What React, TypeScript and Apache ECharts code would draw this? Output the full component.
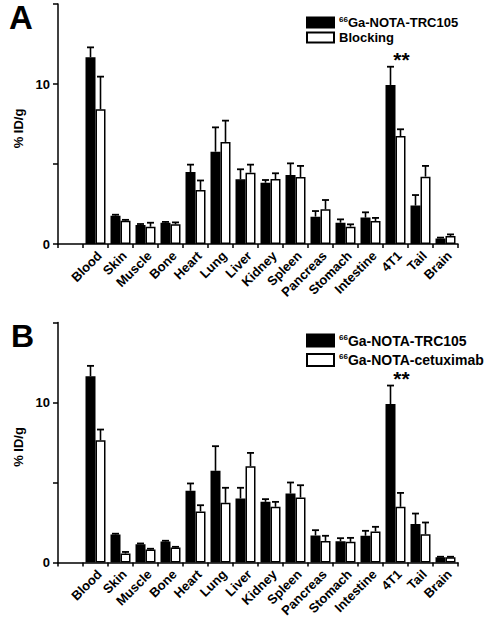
import React, { useEffect, useRef } from "react";
import * as echarts from "echarts";

const categories = ["Blood", "Skin", "Muscle", "Bone", "Heart", "Lung", "Liver", "Kidney", "Spleen", "Pancreas", "Stomach", "Intestine", "4T1", "Tail", "Brain"];

const namesA = ["66Ga-NOTA-TRC105", "Blocking"];
const namesB = ["66Ga-NOTA-TRC105", "66Ga-NOTA-cetuximab"];

const trcA = [11.67, 1.77, 1.19, 1.33, 4.5, 5.77, 4.04, 3.83, 4.31, 1.71, 1.33, 1.65, 9.94, 2.4, 0.35];
const trcAErr = [0.62, 0.06, 0.06, 0.05, 0.46, 1.52, 0.63, 0.17, 0.73, 0.35, 0.21, 0.33, 1.14, 0.66, 0.05];
const blockA = [8.42, 1.46, 1.08, 1.23, 3.38, 6.38, 4.46, 4.06, 4.19, 2.17, 1.08, 1.44, 6.75, 4.21, 0.5];
const blockAErr = [2.04, 0.05, 0.25, 0.12, 0.59, 1.33, 0.5, 0.36, 0.69, 0.58, 0.15, 0.19, 0.42, 0.67, 0.1];

const trcB = [11.64, 1.75, 1.14, 1.31, 4.48, 5.73, 4.0, 3.79, 4.31, 1.69, 1.33, 1.67, 9.9, 2.4, 0.33];
const trcBErr = [0.65, 0.05, 0.05, 0.05, 0.46, 1.54, 0.67, 0.17, 0.69, 0.33, 0.19, 0.31, 1.16, 0.66, 0.03];
const cetuxB = [7.64, 0.56, 0.81, 0.94, 3.19, 3.73, 6.02, 3.48, 4.06, 1.35, 1.29, 1.94, 3.48, 1.77, 0.33];
const cetuxBErr = [0.67, 0.1, 0.05, 0.04, 0.39, 0.94, 0.83, 0.31, 0.77, 0.32, 0.25, 0.29, 0.87, 0.73, 0.03];

const starCategories = ["4T1"];
const starText = "**";
const yTickLabels = [0, 10];
const yAxisName = "% ID/g";
const panelLabels = ["A", "B"];

const FONT = "'Liberation Sans', Arial, sans-serif";
const BAR_W = 10;

function legendFormatter(name: string) {
  if (name.startsWith("66")) return "{sup|66}{main|" + name.slice(2) + "}";
  return "{main|" + name + "}";
}

export default function App() {
  const ref = useRef<HTMLDivElement>(null);
  useEffect(() => {
    document.body.style.margin = "0";
    if (!ref.current) return;
    const chart = echarts.init(ref.current, undefined, { renderer: "svg" });
    const axisData = ["", ...categories];
    const grids = [
      { left: 58, top: 4, width: 400, height: 240 },
      { left: 58, top: 322.5, width: 400, height: 240 },
    ];
    const xAxes = [0, 1].map((g) => ({
      type: "category",
      gridIndex: g,
      data: axisData,
      boundaryGap: true,
      axisLine: { lineStyle: { color: "#000", width: 1.5 } },
      axisTick: { show: true, length: 4, interval: 0, lineStyle: { color: "#000", width: 1.5 } },
      axisLabel: { show: false },
      splitLine: { show: false },
    }));
    const yAxes = [0, 1].map((g) => ({
      type: "value",
      gridIndex: g,
      min: 0,
      max: 15,
      interval: 5,
      name: yAxisName,
      nameLocation: "middle",
      nameRotate: 90,
      nameGap: 20,
      nameTextStyle: { color: "#000", fontFamily: FONT, fontWeight: "bold", fontSize: 13, padding: [0, 9, 0, 0] },
      axisLine: { show: true, lineStyle: { color: "#000", width: 1.5 } },
      axisTick: { show: true, length: 5, lineStyle: { color: "#000", width: 1.5 } },
      axisLabel: {
        margin: 8,
        color: "#000",
        fontFamily: FONT,
        fontWeight: "bold",
        fontSize: 13,
        showMaxLabel: true,
        formatter: (v: number) => (yTickLabels.includes(v) ? String(v) : ""),
      },
      splitLine: { show: false },
    }));

    const barSeries = (name: string, data: number[], g: number, black: boolean) => ({
      type: "bar",
      name,
      xAxisIndex: g,
      yAxisIndex: g,
      data: [null, ...data],
      barWidth: BAR_W,
      barGap: "0%",
      itemStyle: black
        ? { color: "#000", borderColor: "#000", borderWidth: 1.5 }
        : { color: "#fff", borderColor: "#000", borderWidth: 1.5 },
      z: 2,
    });

    const errSeries = (id: string, vals: number[], errs: number[], g: number, offset: number, stars: boolean) => ({
      type: "custom",
      name: id,
      xAxisIndex: g,
      yAxisIndex: g,
      z: 3,
      data: vals.map((v, i) => [i + 1, v, errs[i], stars && starCategories.includes(categories[i]) ? 1 : 0]),
      renderItem: (params: any, api: any) => {
        const c = api.value(0);
        const v = api.value(1);
        const e = api.value(2);
        const s = api.value(3);
        const base = api.coord([c, v]);
        const top = api.coord([c, v + e]);
        const x = base[0] + offset;
        const children: any[] = [
          { type: "line", shape: { x1: x, y1: base[1], x2: x, y2: top[1] }, style: { stroke: "#000", lineWidth: 1.6 } },
          { type: "line", shape: { x1: x - 3.5, y1: top[1], x2: x + 3.5, y2: top[1] }, style: { stroke: "#000", lineWidth: 1.8 } },
        ];
        if (s) {
          children.push({
            type: "text",
            style: {
              text: starText,
              x: base[0] - offset + 1,
              y: top[1] + 3,
              textAlign: "center",
              textVerticalAlign: "bottom",
              fontFamily: FONT,
              fontWeight: "bold",
              fontSize: 21,
              fill: "#000",
            },
          });
        }
        return { type: "group", children };
      },
    });

    const labelSeries = (g: number) => ({
      type: "custom",
      name: "labels" + g,
      xAxisIndex: g,
      yAxisIndex: g,
      z: 4,
      silent: true,
      data: categories.map((c, i) => [i + 1, 0]),
      renderItem: (params: any, api: any) => {
        const idx = params.dataIndex;
        const p = api.coord([api.value(0), 0]);
        return {
          type: "text",
          x: p[0] + 4,
          y: p[1] + 9.5,
          rotation: Math.PI / 4,
          style: {
            text: categories[idx],
            x: 0,
            y: 0,
            textAlign: "right",
            textVerticalAlign: "middle",
            fontFamily: FONT,
            fontWeight: "bold",
            fontSize: 13,
            fill: "#000",
          },
        };
      },
    });

    const legendBase = (fs: number, lh: number) => ({
      orient: "vertical",
      left: 301,
      itemWidth: 27,
      icon: "rect",
      formatter: legendFormatter,
      textStyle: {
        color: "#000",
        fontFamily: FONT,
        fontWeight: "bold",
        fontSize: fs,
        rich: {
          sup: { fontSize: 8, lineHeight: lh, fontWeight: "bold", fontFamily: FONT, color: "#000", verticalAlign: "top", padding: [0, 0, 5, 0] },
          main: { fontSize: fs, lineHeight: lh, fontWeight: "bold", fontFamily: FONT, color: "#000" },
        },
      },
      selectedMode: false,
    });

    const option: any = {
      animation: false,
      backgroundColor: "#fff",
      grid: grids,
      xAxis: xAxes,
      yAxis: yAxes,
      legend: [
        { ...legendBase(13, 14), data: namesA, top: 10.5, itemHeight: 10, itemGap: 2 },
        { ...legendBase(14, 15), data: namesB, top: 328, itemHeight: 12, itemGap: 5 },
      ],
      graphic: [
        { type: "text", left: 9, top: 1, style: { text: panelLabels[0], fontFamily: FONT, fontWeight: "bold", fontSize: 33, lineHeight: 26, fill: "#000" } },
        { type: "text", left: 11, top: 320, style: { text: panelLabels[1], fontFamily: FONT, fontWeight: "bold", fontSize: 32, lineHeight: 25, fill: "#000" } },
      ],
      series: [
        barSeries(namesA[0], trcA, 0, true),
        barSeries(namesA[1], blockA, 0, false),
        barSeries(namesB[0], trcB, 1, true),
        barSeries(namesB[1], cetuxB, 1, false),
        errSeries("errA0", trcA, trcAErr, 0, -BAR_W / 2, true),
        errSeries("errA1", blockA, blockAErr, 0, BAR_W / 2, false),
        errSeries("errB0", trcB, trcBErr, 1, -BAR_W / 2, true),
        errSeries("errB1", cetuxB, cetuxBErr, 1, BAR_W / 2, false),
        labelSeries(0),
        labelSeries(1),
      ],
    };
    chart.setOption(option);
    return () => chart.dispose();
  }, []);
  return <div ref={ref} style={{ width: 489, height: 627 }} />;
}
